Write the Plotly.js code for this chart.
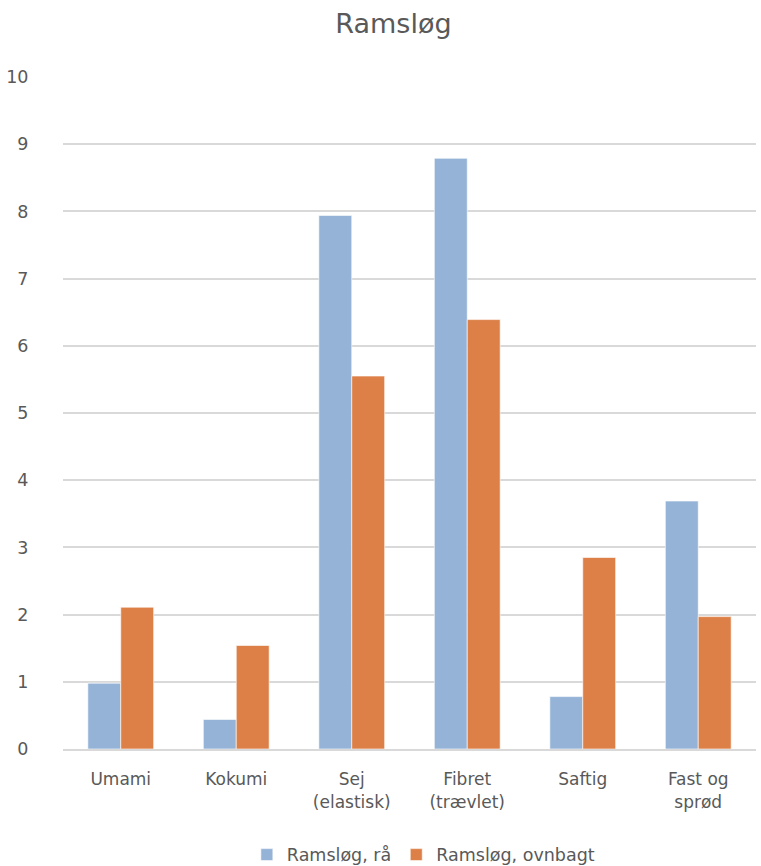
<!DOCTYPE html>
<html>
<head>
<meta charset="utf-8">
<script src="https://cdn.plot.ly/plotly-3.0.1.min.js"></script>
<style>html,body{margin:0;padding:0;background:#fff;}#chart{width:761px;height:866px;}</style>
</head>
<body>
<div id="chart"></div>
<script>
const categories = ["Umami", "Kokumi", "Sej<br>(elastisk)", "Fibret<br>(trævlet)", "Saftig", "Fast og<br>sprød"];
const seriesNames = ["Ramsløg, rå", "Ramsløg, ovnbagt"];
const raw = [0.98, 0.44, 7.94, 8.79, 0.78, 3.69];
const baked = [2.11, 1.54, 5.55, 6.39, 2.85, 1.97];
const yTicks = [0, 1, 2, 3, 4, 5, 6, 7, 8, 9, 10];

const font = "'DejaVu Sans', sans-serif";
const traces = [
  {type: "bar", name: seriesNames[0], x: categories, y: raw,
   marker: {color: "#95B3D7", line: {color: "rgba(255,255,255,0.6)", width: 1}}},
  {type: "bar", name: seriesNames[1], x: categories, y: baked,
   marker: {color: "#DD8047", line: {color: "rgba(255,255,255,0.6)", width: 1}}}
];
const layout = {
  width: 761, height: 866,
  margin: {l: 63, r: 5, t: 77, b: 117, autoexpand: false},
  paper_bgcolor: "#fff", plot_bgcolor: "#fff",
  font: {family: font, color: "#595959", size: 17},
  title: {text: "Ramsløg", font: {family: font, size: 27, color: "#595959"}, x: 0.517, xanchor: "center", y: 0.984, yanchor: "top"},
  barmode: "group", bargap: 0.43, bargroupgap: 0,
  showlegend: true,
  legend: {orientation: "h", x: 0.52, xanchor: "center", yref: "container", y: 0.013, yanchor: "middle", font: {size: 17.5, color: "#595959"}, itemwidth: 30, traceorder: "normal"},
  xaxis: {type: "category", showgrid: false, zeroline: false, showline: true, linecolor: "#D9D9D9", linewidth: 2,
          ticks: "outside", ticklen: 14, tickcolor: "rgba(0,0,0,0)", tickfont: {size: 17, color: "#595959"}},
  yaxis: {range: [0, 10], tickvals: yTicks, ticktext: yTicks.map(String), showgrid: true, gridcolor: "#D9D9D9", gridwidth: 2,
          zeroline: false, showline: false, ticks: "outside", ticklen: 30, tickcolor: "rgba(0,0,0,0)",
          tickfont: {size: 17.5, color: "#595959"}}
};
Plotly.newPlot("chart", traces, layout, {displayModeBar: false, staticPlot: true});
</script>
</body>
</html>
